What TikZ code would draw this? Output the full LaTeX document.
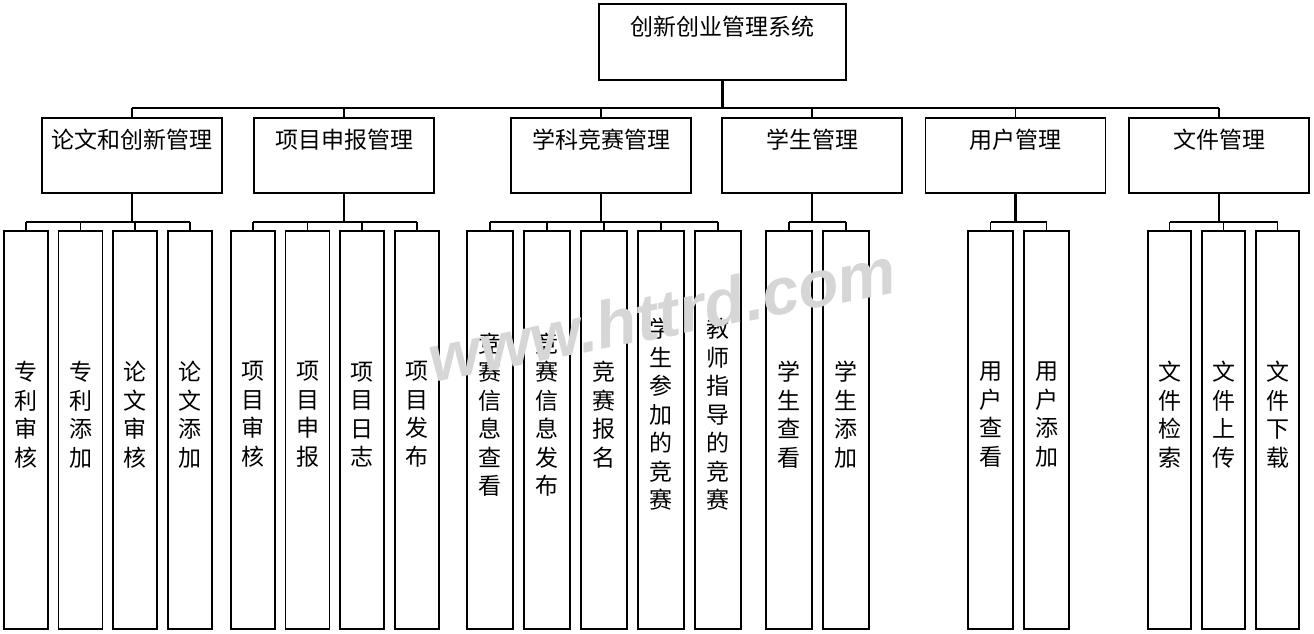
\documentclass[tikz,border=0pt]{standalone}
\usepackage{fontspec}
\setmainfont{Noto Sans CJK SC}
\newfontfamily\wmfont{Liberation Sans}
\begin{document}
\begin{tikzpicture}[x=1pt,y=-1pt,
  box/.style={draw, line width=1.5pt, rectangle, inner sep=0pt},
  topbox/.style={box, minimum width=247pt, minimum height=76pt},
  midbox/.style={box, minimum width=180pt, minimum height=75pt},
  leaf/.style={box, minimum height=398pt, minimum width=#1},
  wire/.style={line width=1.4pt},
  drop/.style={line width=2.2pt},
  htext/.style={font=\fontsize{23}{26}\selectfont, inner sep=0pt},
  vtext/.style={font=\fontsize{23}{28.5}\selectfont, align=center, inner sep=0pt}
]
\useasboundingbox (0,0) rectangle (1314,634);
\fill[white] (0,0) rectangle (1314,634);

% top
\node[topbox] (top) at (722.5,42) {};
\node[htext] (toptxt) at (722,27) {创新创业管理系统};

% level 2
\foreach \n/\x/\t in {m1/132/论文和创新管理, m2/344/项目申报管理, m3/601/学科竞赛管理, m4/812/学生管理, m5/1015.5/用户管理, m6/1219/文件管理}{
  \node[midbox] (\n) at (\x,155.5) {};
  \node[htext] (\n txt) at (\x,140) {\t};
}

\coordinate (busA) at (0,108);
\coordinate (busB) at (0,222);

\draw[drop] (top.south) -- (top.south |- busA);
\draw[wire] (m1.north |- busA) -- (m6.north |- busA);
\foreach \n in {m1,m2,m3,m4,m5,m6}{
  \draw[wire] (\n.north |- busA) -- (\n.north);
}

% leaves
\foreach \n/\x/\w/\t in {
  a1/26/44/专\\利\\审\\核, a2/80.5/44/专\\利\\添\\加, a3/135/44/论\\文\\审\\核, a4/190/44/论\\文\\添\\加,
  b1/253/44/项\\目\\审\\核, b2/307.5/44/项\\目\\申\\报, b3/362/44/项\\目\\日\\志, b4/417/44/项\\目\\发\\布,
  c1/490/46/竞\\赛\\信\\息\\查\\看, c2/547/46/竞\\赛\\信\\息\\发\\布, c3/604/46/竞\\赛\\报\\名,
  c4/661/46/学\\生\\参\\加\\的\\竞\\赛, c5/718/46/教\\师\\指\\导\\的\\竞\\赛,
  d1/789/46/学\\生\\查\\看, d2/846/46/学\\生\\添\\加,
  e1/990.5/45/用\\户\\查\\看, e2/1046.5/45/用\\户\\添\\加,
  f1/1169.5/43/文\\件\\检\\索, f2/1223.5/43/文\\件\\上\\传, f3/1277.5/43/文\\件\\下\\载}{
  \node[leaf=\w pt] (\n) at (\x,430) {};
  \node[vtext] (\n txt) at (\x,414.5) {\t};
  \draw[wire] (\n.north |- busB) -- (\n.north);
}

% group buses
\draw[drop] (m1.south) -- (m1.south |- busB);
\draw[wire] (a1.north |- busB) -- (a4.north |- busB);
\draw[drop] (m2.south) -- (m2.south |- busB);
\draw[wire] (b1.north |- busB) -- (b4.north |- busB);
\draw[drop] (m3.south) -- (m3.south |- busB);
\draw[wire] (c1.north |- busB) -- (c5.north |- busB);
\draw[drop] (m4.south) -- (m4.south |- busB);
\draw[wire] (d1.north |- busB) -- (d2.north |- busB);
\draw[drop] (m5.south) -- (m5.south |- busB);
\draw[wire] (e1.north |- busB) -- (e2.north |- busB);
\draw[drop] (m6.south) -- (m6.south |- busB);
\draw[wire] (f1.north |- busB) -- (f3.north |- busB);

% watermark
\node[rotate=11, xscale=1.0, text=black!16, font=\wmfont\bfseries\itshape\fontsize{66}{66}\selectfont, inner sep=0pt] (wm) at (662,314) {www.httrd.com};
\end{tikzpicture}
\end{document}
